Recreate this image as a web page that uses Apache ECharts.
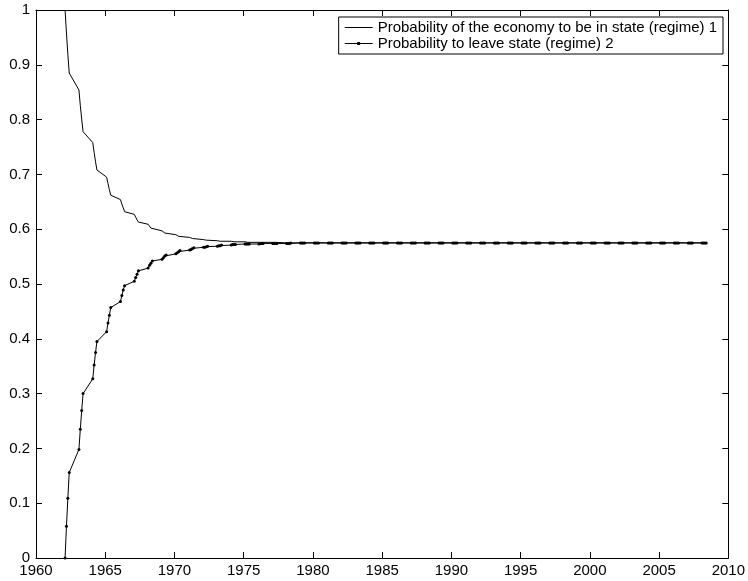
<!DOCTYPE html>
<html>
<head>
<meta charset="utf-8">
<script src="https://cdn.jsdelivr.net/npm/echarts@6/dist/echarts.min.js"></script>
<style>
  html, body { margin: 0; padding: 0; background: #fff; }
  #chart { width: 748px; height: 581px; }
</style>
</head>
<body>
<div id="chart"></div>
<script>
// quarterly observations, x encoded as year + quarter/10
const firstYear = 1962
const lastYear = 2008
const quarterOffsets = [0.1, 0.2, 0.3, 0.4]

const xTicks = [1960, 1965, 1970, 1975, 1980, 1985, 1990, 1995, 2000, 2005, 2010]
const yTicks = [0, 0.1, 0.2, 0.3, 0.4, 0.5, 0.6, 0.7, 0.8, 0.9, 1]

const seriesNames = [
  'Probability of the economy to be in state (regime) 1',
  'Probability to leave state (regime) 2',
]

const regime1 = [
  1.000, 0.958, 0.919, 0.885,
  0.854, 0.826, 0.801, 0.778,
  0.758, 0.740, 0.723, 0.708,
  0.695, 0.683, 0.672, 0.662,
  0.654, 0.646, 0.639, 0.632,
  0.627, 0.622, 0.617, 0.613,
  0.609, 0.606, 0.602, 0.600,
  0.597, 0.595, 0.593, 0.591,
  0.590, 0.588, 0.587, 0.586,
  0.585, 0.584, 0.583, 0.582,
  0.581, 0.581, 0.580, 0.580,
  0.579, 0.579, 0.578, 0.578,
  0.578, 0.577, 0.577, 0.577,
  0.577, 0.577, 0.576, 0.576,
  0.576, 0.576, 0.576, 0.576,
  0.576, 0.576, 0.576, 0.576,
  0.575, 0.575, 0.575, 0.575, // 1978
  0.575, 0.575, 0.575, 0.575,
  0.575, 0.575, 0.575, 0.575, // 1980
  0.575, 0.575, 0.575, 0.575,
  0.575, 0.575, 0.575, 0.575,
  0.575, 0.575, 0.575, 0.575,
  0.575, 0.575, 0.575, 0.575,
  0.575, 0.575, 0.575, 0.575, // 1985
  0.575, 0.575, 0.575, 0.575,
  0.575, 0.575, 0.575, 0.575,
  0.575, 0.575, 0.575, 0.575,
  0.575, 0.575, 0.575, 0.575,
  0.575, 0.575, 0.575, 0.575, // 1990
  0.575, 0.575, 0.575, 0.575,
  0.575, 0.575, 0.575, 0.575,
  0.575, 0.575, 0.575, 0.575,
  0.575, 0.575, 0.575, 0.575,
  0.575, 0.575, 0.575, 0.575, // 1995
  0.575, 0.575, 0.575, 0.575,
  0.575, 0.575, 0.575, 0.575,
  0.575, 0.575, 0.575, 0.575,
  0.575, 0.575, 0.575, 0.575,
  0.575, 0.575, 0.575, 0.575, // 2000
  0.575, 0.575, 0.575, 0.575,
  0.575, 0.575, 0.575, 0.575,
  0.575, 0.575, 0.575, 0.575,
  0.575, 0.575, 0.575, 0.575,
  0.575, 0.575, 0.575, 0.575, // 2005
  0.575, 0.575, 0.575, 0.575,
  0.575, 0.575, 0.575, 0.575,
  0.575, 0.575, 0.575, 0.575, // 2008
]

const leave2 = [
  0.000, 0.058, 0.109, 0.156,
  0.198, 0.235, 0.269, 0.300,
  0.327, 0.352, 0.375, 0.395,
  0.413, 0.429, 0.443, 0.457,
  0.468, 0.479, 0.489, 0.497,
  0.505, 0.512, 0.518, 0.524,
  0.529, 0.534, 0.538, 0.542,
  0.545, 0.548, 0.551, 0.553,
  0.555, 0.557, 0.559, 0.561,
  0.562, 0.563, 0.565, 0.566,
  0.567, 0.567, 0.568, 0.569,
  0.569, 0.570, 0.570, 0.571,
  0.571, 0.572, 0.572, 0.572,
  0.573, 0.573, 0.573, 0.573,
  0.573, 0.574, 0.574, 0.574,
  0.574, 0.574, 0.574, 0.574,
  0.574, 0.574, 0.574, 0.575, // 1978
  0.575, 0.575, 0.575, 0.575,
  0.575, 0.575, 0.575, 0.575, // 1980
  0.575, 0.575, 0.575, 0.575,
  0.575, 0.575, 0.575, 0.575,
  0.575, 0.575, 0.575, 0.575,
  0.575, 0.575, 0.575, 0.575,
  0.575, 0.575, 0.575, 0.575, // 1985
  0.575, 0.575, 0.575, 0.575,
  0.575, 0.575, 0.575, 0.575,
  0.575, 0.575, 0.575, 0.575,
  0.575, 0.575, 0.575, 0.575,
  0.575, 0.575, 0.575, 0.575, // 1990
  0.575, 0.575, 0.575, 0.575,
  0.575, 0.575, 0.575, 0.575,
  0.575, 0.575, 0.575, 0.575,
  0.575, 0.575, 0.575, 0.575,
  0.575, 0.575, 0.575, 0.575, // 1995
  0.575, 0.575, 0.575, 0.575,
  0.575, 0.575, 0.575, 0.575,
  0.575, 0.575, 0.575, 0.575,
  0.575, 0.575, 0.575, 0.575,
  0.575, 0.575, 0.575, 0.575, // 2000
  0.575, 0.575, 0.575, 0.575,
  0.575, 0.575, 0.575, 0.575,
  0.575, 0.575, 0.575, 0.575,
  0.575, 0.575, 0.575, 0.575,
  0.575, 0.575, 0.575, 0.575, // 2005
  0.575, 0.575, 0.575, 0.575,
  0.575, 0.575, 0.575, 0.575,
  0.575, 0.575, 0.575, 0.575, // 2008
]

const xDates = []
for (let y = firstYear; y <= lastYear; y++) {
  quarterOffsets.forEach((q) => xDates.push(+(y + q).toFixed(1)))
}

const font = 'Liberation Sans, Arial, sans-serif'
const black = '#000'

// legend icons: plain line, and line with a small dot (MATLAB '-' and '.-')
// the leading moves keep the icon box at 28x12 so the line stays thin
const iconLine = 'path://M0,0M28,12M0,5.5H28V6.5H0Z'
const iconLineDot = 'path://M0,0M28,12M0,5.5H28V6.5H0ZM12.5,4.5H15.5V7.5H12.5Z'

const chart = echarts.init(document.getElementById('chart'), null, { renderer: 'canvas' })

const tickStyle = { inside: true, length: 6, lineStyle: { color: black, width: 1 } }
const lineStyle = { lineStyle: { color: black, width: 1 } }

function xAxis(position, showLabel) {
  return {
    type: 'value',
    position,
    min: xTicks[0],
    max: xTicks[xTicks.length - 1],
    interval: 5,
    axisLine: { show: true, onZero: false, ...lineStyle },
    axisTick: tickStyle,
    splitLine: { show: false },
    axisLabel: {
      show: showLabel,
      color: black,
      fontFamily: font,
      fontSize: 15,
      margin: 5,
      formatter: (v) => String(v),
    },
  }
}

function yAxis(position, showLabel) {
  return {
    type: 'value',
    position,
    min: yTicks[0],
    max: yTicks[yTicks.length - 1],
    interval: 0.1,
    axisLine: { show: true, onZero: false, ...lineStyle },
    axisTick: tickStyle,
    splitLine: { show: false },
    axisLabel: { show: showLabel, color: black, fontFamily: font, fontSize: 15, margin: 6 },
  }
}

chart.setOption({
  backgroundColor: '#fff',
  animation: false,
  grid: { left: 36, right: 17, top: 10, bottom: 23, containLabel: false },
  legend: {
    data: [
      { name: seriesNames[0], icon: iconLine },
      { name: seriesNames[1], icon: iconLineDot },
    ],
    orient: 'vertical',
    right: 25,
    top: 17,
    padding: [3, 6, 3, 6],
    itemGap: 1,
    itemWidth: 28,
    itemHeight: 12,
    borderColor: black,
    borderWidth: 1,
    backgroundColor: '#fff',
    textStyle: { color: black, fontFamily: font, fontSize: 15 },
  },
  xAxis: [xAxis('bottom', true), xAxis('top', false)],
  yAxis: [yAxis('left', true), yAxis('right', false)],
  series: [
    {
      name: seriesNames[0],
      type: 'line',
      data: xDates.map((x, i) => [x, regime1[i]]),
      symbol: 'none',
      lineStyle: { color: black, width: 1 },
      itemStyle: { color: black },
    },
    {
      name: seriesNames[1],
      type: 'line',
      data: xDates.map((x, i) => [x, leave2[i]]),
      symbol: 'circle',
      symbolSize: 3,
      showAllSymbol: true,
      lineStyle: { color: black, width: 1 },
      itemStyle: { color: black },
    },
  ],
})
</script>
</body>
</html>
